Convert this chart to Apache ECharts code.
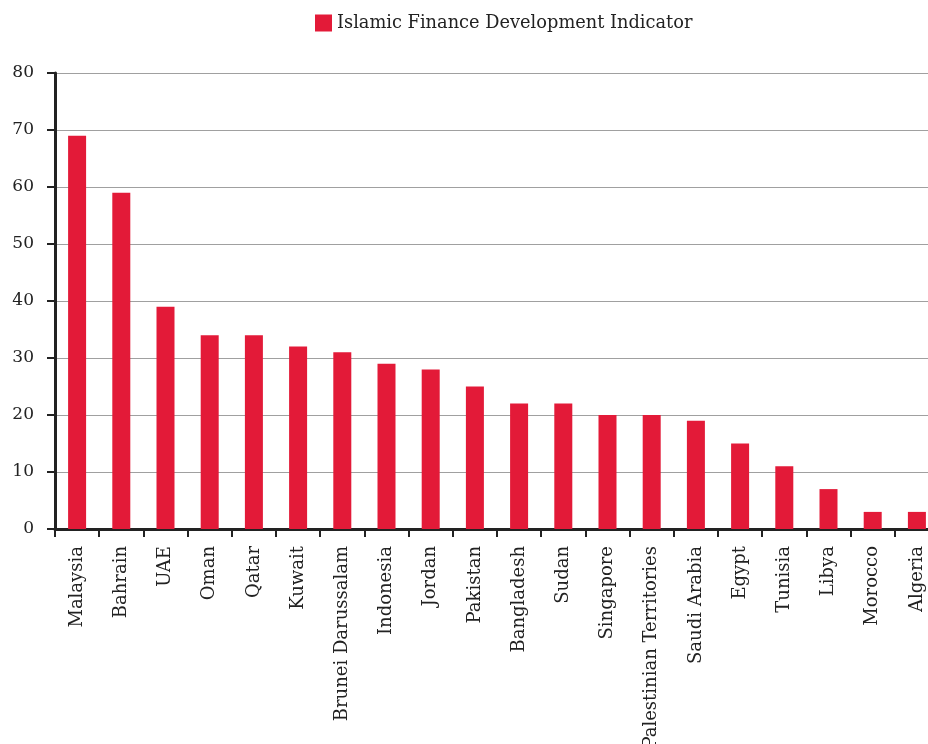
<!DOCTYPE html>
<html lang="en">
  <head>
    <meta charset="UTF-8" />
    <title>Islamic Finance Development Indicator</title>
    <script src="https://cdn.jsdelivr.net/npm/echarts@6/dist/echarts.min.js"></script>
    <style>
      html, body { margin: 0; padding: 0; background: #fff; }
      #main { width: 928px; height: 744px; }
    </style>
  </head>
  <body>
    <div id="main"></div>
    <script>
      // countries, sorted by score
      var countries = [
        "Malaysia", "Bahrain", "UAE", "Oman", "Qatar", "Kuwait",
        "Brunei Darussalam", "Indonesia", "Jordan", "Pakistan", "Bangladesh",
        "Sudan", "Singapore", "Palestinian Territories", "Saudi Arabia",
        "Egypt", "Tunisia", "Libya", "Morocco", "Algeria"
      ];
      var ifdiScores = [69, 59, 39, 34, 34, 32, 31, 29, 28, 25, 22, 22, 20, 20, 19, 15, 11, 7, 3, 3];
      var yTicks = [0, 10, 20, 30, 40, 50, 60, 70, 80];

      var serif = "DejaVu Serif";
      var myChart = echarts.init(document.getElementById("main"));
      var option = {
        animation: false,
        legend: {
          left: 315,
          top: 14,
          padding: 0,
          itemWidth: 17,
          itemHeight: 17,
          itemGap: 8,
          icon: "rect",
          textStyle: { fontFamily: serif, fontSize: 17.8, color: "#222" }
        },
        // the right end of the plot runs past the page edge, as in the source
        grid: { left: 55, right: -11, top: 73, bottom: 215, outerBoundsMode: "none" },
        xAxis: {
          type: "category",
          data: countries,
          axisLine: { lineStyle: { color: "#222", width: 3 } },
          axisTick: { show: true, length: 8, lineStyle: { color: "#222", width: 2 } },
          axisLabel: {
            rotate: 90,
            interval: 0,
            margin: 17,
            fontFamily: serif,
            fontSize: 18,
            color: "#222"
          }
        },
        yAxis: {
          type: "value",
          min: yTicks[0],
          max: yTicks[yTicks.length - 1],
          interval: 10,
          axisLine: { show: true, lineStyle: { color: "#222", width: 3 } },
          axisTick: { show: true, length: 8, lineStyle: { color: "#222", width: 2 } },
          axisLabel: { margin: 21, fontFamily: serif, fontSize: 17, color: "#222" },
          splitLine: { lineStyle: { color: "#a0a0a0", width: 1.2 } }
        },
        series: [
          {
            name: "Islamic Finance Development Indicator",
            type: "bar",
            data: ifdiScores,
            barWidth: 18,
            itemStyle: { color: "#e31a38" }
          }
        ]
      };
      myChart.setOption(option);
    </script>
  </body>
</html>
